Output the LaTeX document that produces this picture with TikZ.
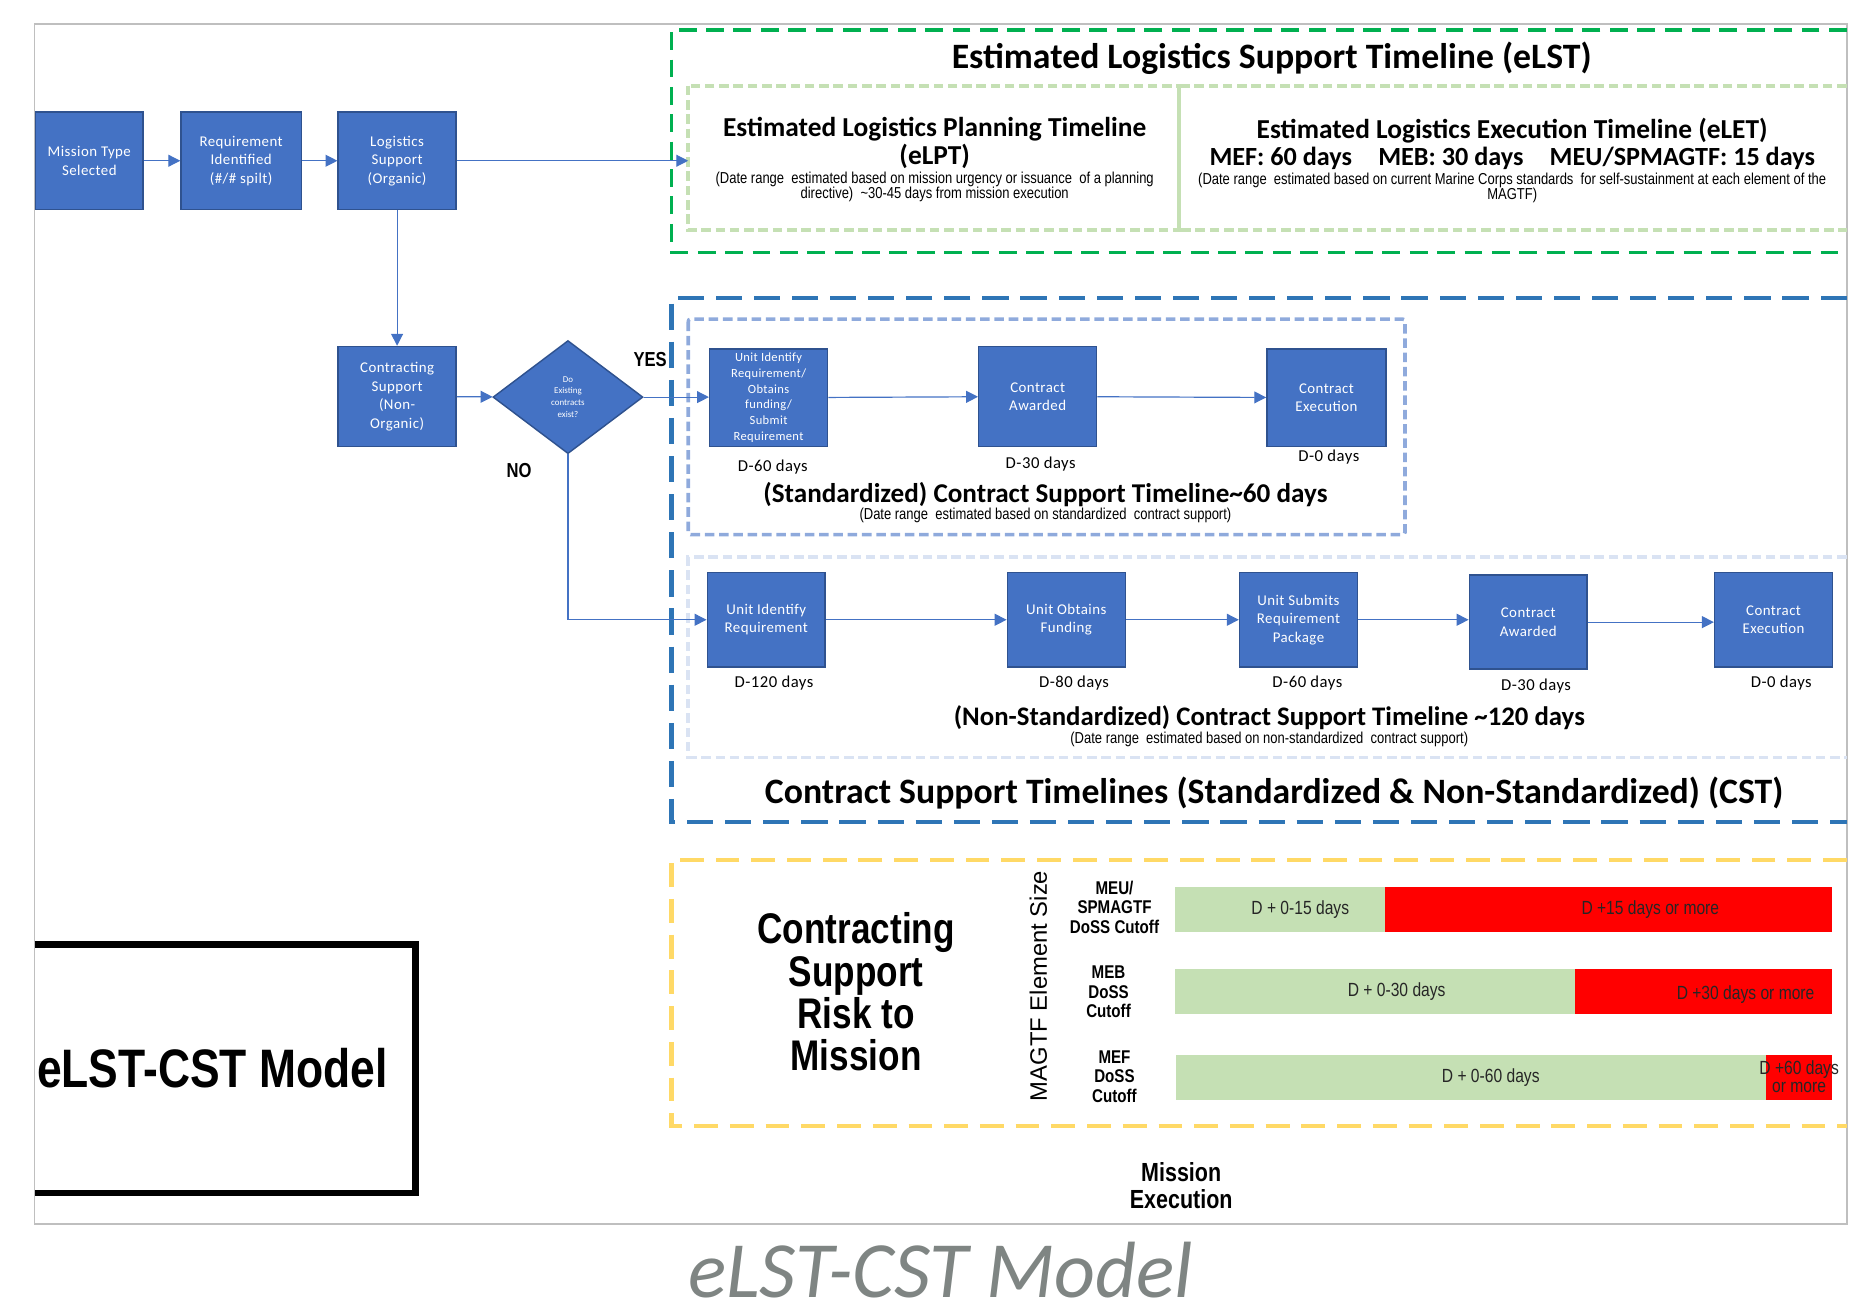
\documentclass[tikz,border=0pt]{standalone}
\usepackage{fontspec}
\setmainfont{Liberation Sans}
\newfontfamily\calfont{Carlito}
\newfontfamily\boxfont[LetterSpace=3]{Carlito}
\newfontfamily\narrowfont[FakeStretch=0.82]{Liberation Sans}
\usetikzlibrary{arrows.meta,shapes.geometric}
\definecolor{boxblue}{HTML}{4472C4}
\definecolor{boxedge}{HTML}{2F528F}
\definecolor{elstgreen}{HTML}{00B050}
\definecolor{palegreen}{HTML}{C5E0B4}
\definecolor{cstblue}{HTML}{2E75B6}
\definecolor{stdblue}{HTML}{8FAADC}
\definecolor{nstdblue}{HTML}{DAE3F3}
\definecolor{riskyellow}{HTML}{FFD966}
\definecolor{barred}{HTML}{FF0000}
\definecolor{framegray}{HTML}{BFBFBF}
\definecolor{captiongray}{HTML}{7F8583}
\definecolor{bartext}{HTML}{262626}
\newcommand\fsz[2]{\fontsize{#1}{#2}\selectfont}

\begin{document}
\begin{tikzpicture}[x=1pt,y=-1pt,
  stepbox/.style={draw=boxedge, fill=boxblue, line width=1.2pt, text=white,
    align=center, inner sep=1pt, font=\boxfont\fsz{12.5}{15.5}},
  decision/.style={diamond, draw=boxedge, fill=boxblue, line width=1.2pt,
    text=white, align=center, inner sep=0pt, font=\calfont\fsz{7.5}{10}},
  flow/.style={draw=boxblue, line width=1pt, -{Triangle[length=10pt,width=10pt]}},
  daylabel/.style={font=\boxfont\fsz{14}{16}},
  heading/.style={font=\calfont\bfseries\fsz{23}{23}, align=center},
  note/.style={font=\narrowfont\fsz{13.3}{13}, align=center},
  barlabel/.style={font=\narrowfont\fsz{16}{15}, text=bartext, align=center},
  sizelabel/.style={font=\narrowfont\bfseries\fsz{15.5}{16.5}, align=center},
  answer/.style={font=\narrowfont\bfseries\fsz{17}{18}},
  elstframe/.style={draw=elstgreen, line width=3pt, dash pattern=on 15pt off 8pt},
  cstframe/.style={draw=cstblue, line width=3.5pt, dash pattern=on 22pt off 10pt},
  riskframe/.style={draw=riskyellow, line width=3.5pt, dash pattern=on 20pt off 10pt},
  subframe/.style={line width=3pt, dash pattern=on 8pt off 4pt}
]
\useasboundingbox (0,0) rectangle (1568,1104);

% outer page frame
\draw[framegray, line width=1.5pt] (29,20) rectangle (1551,1028);

% ---------- eLST block ----------
\draw[elstframe] (1551,25) -- (564,25) -- (564,212) -- (1551,212);
\draw[subframe, draw=palegreen] (578,72) rectangle (990,193);
\draw[subframe, draw=palegreen] (1551,72) -- (990,72) -- (990,193) -- (1551,193);

\node[font=\calfont\bfseries\fsz{30}{34}] (elsttitle) at (1068,49)
  {Estimated Logistics Support Timeline (eLST)};
\node[heading] (elpt) at (785,120)
  {Estimated Logistics Planning Timeline\\(eLPT)};
\node[note] (elptnote) at (785,157)
  {(Date range\ \ estimated based on mission urgency or issuance\ \ of a planning\\directive)\ \ \textasciitilde30-45 days from mission execution};
\node[heading] (elet) at (1270,110)
  {Estimated Logistics Execution Timeline (eLET)};
\node[heading, font=\calfont\bfseries\fsz{22}{24}] (eletdays) at (1270,133)
  {MEF: 60 days\quad MEB: 30 days\quad MEU/SPMAGTF: 15 days};
\node[note] (eletnote) at (1270,158)
  {(Date range\ \ estimated based on current Marine Corps standards\ \ for self-sustainment at each element of the\\MAGTF)};

% ---------- CST block ----------
\draw[cstframe] (1551,250) -- (564,250) -- (564,690) -- (1551,690);
\draw[subframe, draw=stdblue, rounded corners=2pt] (578,268) rectangle (1180,449);
\draw[subframe, draw=nstdblue] (1551,468) -- (578,468) -- (578,636) -- (1551,636);

\node[font=\calfont\bfseries\fsz{30}{32}] (csttitle) at (1070,666)
  {Contract Support Timelines (Standardized \& Non-Standardized) (CST)};
\node[heading, font=\calfont\bfseries\fsz{22.8}{24}] (stdtitle) at (878,415)
  {(Standardized) Contract Support Timeline\textasciitilde60 days};
\node[note] (stdnote) at (878,433)
  {(Date range\ \ estimated based on standardized\ \ contract support)};
\node[heading, font=\calfont\bfseries\fsz{22.5}{24}] (nstdtitle) at (1066,603)
  {(Non-Standardized) Contract Support Timeline \textasciitilde120 days};
\node[note] (nstdnote) at (1066,621)
  {(Date range\ \ estimated based on non-standardized\ \ contract support)};

% ---------- risk block ----------
\draw[riskframe] (1551,722) -- (564,722) -- (564,946) -- (1551,946);

\node[font=\narrowfont\bfseries\fsz{36}{35.5}, align=center] (risk) at (719,833)
  {Contracting\\Support\\Risk to\\Mission};
\node[rotate=90, font=\fsz{20}{22}] (magtf) at (872,828) {MAGTF Element Size};
\node[sizelabel] (meu) at (936,762) {MEU/\\SPMAGTF\\DoSS Cutoff};
\node[sizelabel] (meb) at (931,833) {MEB\\DoSS\\Cutoff};
\node[sizelabel] (mef) at (936,904) {MEF\\DoSS\\Cutoff};

\fill[palegreen] (987,745) rectangle (1163,783);
\fill[barred] (1163,745) rectangle (1539,783);
\fill[palegreen] (987,814) rectangle (1323,852);
\fill[barred] (1323,814) rectangle (1539,852);
\fill[palegreen] (988,886) rectangle (1483,924);
\fill[barred] (1483,886) rectangle (1539,924);

\node[barlabel] (meugreen) at (1092,764) {D + 0-15 days};
\node[barlabel] (meured) at (1386,764) {D +15 days or more};
\node[barlabel] (mebgreen) at (1173,833) {D + 0-30 days};
\node[barlabel] (mebred) at (1466,835) {D +30 days or more};
\node[barlabel] (mefgreen) at (1252,905) {D + 0-60 days};
\node[barlabel] (mefred) at (1511,904) {D +60 days\\or more};

\node[font=\narrowfont\bfseries\fsz{22}{22.5}, align=center] (execution) at (992,996)
  {Mission\\Execution};

% ---------- model label ----------
\draw[line width=5.5pt] (29,793) -- (349,793) -- (349,1002) -- (29,1002);
\node[anchor=west, inner sep=0pt, font=\narrowfont\bfseries\fsz{45.5}{46}] (model) at (31,897)
  {eLST-CST Model};

\node[anchor=base, inner sep=0pt, font=\calfont\itshape\fsz{67}{70}, text=captiongray] (caption) at (790,1090)
  {eLST-CST Model};

% ---------- process flow ----------
\node[stepbox, minimum width=90pt, minimum height=82pt] (mission) at (75,135)
  {Mission Type\\Selected};
\node[stepbox, minimum width=101pt, minimum height=82pt] (req) at (202.5,135)
  {Requirement\\Identified\\(\#/\# spilt)};
\node[stepbox, minimum width=99pt, minimum height=82pt] (logs) at (333.5,135)
  {Logistics\\Support\\(Organic)};
\node[stepbox, minimum width=99pt, minimum height=84pt] (cont) at (333.5,333)
  {Contracting\\Support\\(Non-\\Organic)};
\node[decision, minimum width=126pt, minimum height=95pt] (exist) at (477,333.5)
  {Do\\Existing\\contracts\\exist?};

\node[stepbox, font=\boxfont\fsz{10.5}{13.2}, inner sep=0pt, minimum width=99pt, minimum height=82pt] (sid) at (645.5,334)
  {Unit Identify\\Requirement/\\Obtains\\funding/\\Submit\\Requirement};
\node[stepbox, minimum width=99pt, minimum height=84pt] (saw) at (871.5,333)
  {Contract\\Awarded};
\node[stepbox, minimum width=100pt, minimum height=82pt] (sex) at (1114,334)
  {Contract\\Execution};

\node[stepbox, minimum width=99pt, minimum height=79pt] (nid) at (643.5,520.5)
  {Unit Identify\\Requirement};
\node[stepbox, minimum width=99pt, minimum height=79pt] (nfu) at (895.5,520.5)
  {Unit Obtains\\Funding};
\node[stepbox, minimum width=99pt, minimum height=79pt] (nsu) at (1090.5,520.5)
  {Unit Submits\\Requirement\\Package};
\node[stepbox, minimum width=99pt, minimum height=79pt] (naw) at (1283.5,522.5)
  {Contract\\Awarded};
\node[stepbox, minimum width=99pt, minimum height=79pt] (nex) at (1489.5,520.5)
  {Contract\\Execution};

\node[daylabel] (sd60) at (649,392) {D-60 days};
\node[daylabel] (sd30) at (874,390) {D-30 days};
\node[daylabel] (sd0) at (1116,384) {D-0 days};
\node[daylabel] (nd120) at (650,574) {D-120 days};
\node[daylabel] (nd80) at (902,574) {D-80 days};
\node[daylabel] (nd60) at (1098,574) {D-60 days};
\node[daylabel] (nd30) at (1290,576) {D-30 days};
\node[daylabel] (nd0) at (1496,574) {D-0 days};

\node[answer] (yes) at (546,302) {YES};
\node[answer] (no) at (436,395) {NO};

\coordinate (elstin) at (578,135);
\draw[flow] (mission) -- (req);
\draw[flow] (req) -- (logs);
\draw[flow] (logs.east) -- (elstin);
\draw[flow] (logs) -- (cont);
\draw[flow] (cont) -- (exist);
\draw[flow] (exist.east) -- (exist.east -| sid.west);
\draw[flow] (exist.south) |- (nid.west);
\draw[flow] (sid) -- (saw);
\draw[flow] (saw) -- (sex);
\draw[flow] (nid) -- (nfu);
\draw[flow] (nfu) -- (nsu);
\draw[flow] (nsu.east) -- (nsu.east -| naw.west);
\draw[flow] (naw.east) -- (naw.east -| nex.west);
\end{tikzpicture}
\end{document}
